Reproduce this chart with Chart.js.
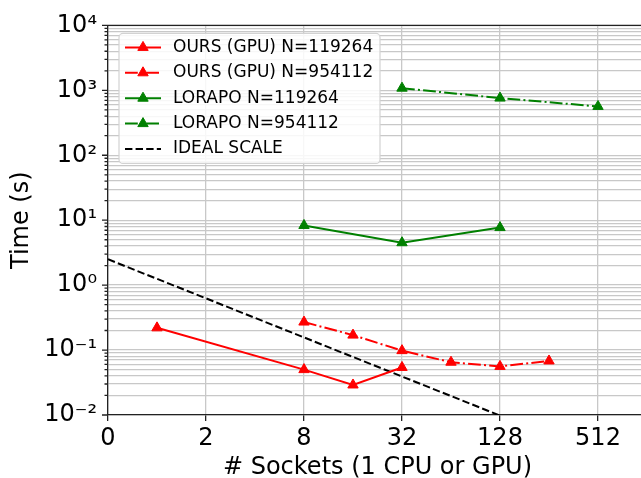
<!DOCTYPE html>
<html>
<head>
<meta charset="utf-8">
<script src="https://cdn.jsdelivr.net/npm/chart.js@4"></script>
<style>
  html, body { margin: 0; padding: 0; background: #fff; overflow: hidden; }
  #wrap { width: 654px; height: 484px; }
</style>
</head>
<body>
<div id="wrap"><canvas id="chart" width="654" height="484"></canvas></div>
<script>
// sockets on x, time in seconds on y
const oursSmallX = [1, 8, 16, 32];
const oursSmallY = [0.22, 0.05, 0.029, 0.054];
const oursLargeX = [8, 16, 32, 64, 128, 256];
const oursLargeY = [0.27, 0.17, 0.098, 0.065, 0.056, 0.068];
const lorapoSmallX = [8, 32, 128];
const lorapoSmallY = [8.3, 4.5, 7.7];
const lorapoLargeX = [32, 128, 512];
const lorapoLargeY = [1080, 760, 565];
const idealX = [0.5, 128];
const idealY = [2.5, 0.0098];

const xTickValues = [0.5, 2, 8, 32, 128, 512];
const xTickLabels = ["0", "2", "8", "32", "128", "512"];
const yTickValues = [0.01, 0.1, 1, 10, 100, 1000, 10000];
const yTickLabels = ["10⁻²", "10⁻¹", "10⁰", "10¹", "10²", "10³", "10⁴"];

const DASHDOT = [12.8, 3.2, 2, 3.2];
const DASHED = [7.4, 3.2];
const RED = "#ff0000";
const GREEN = "#008000";

Chart.defaults.font.family = "'DejaVu Sans', sans-serif";
Chart.defaults.color = "#000";

const toPoints = (xs, ys) => xs.map((x, i) => ({ x, y: ys[i] }));

// major ticks plus 2..9 minor ticks per decade
const yTicks = [];
yTickValues.forEach((v, i) => {
  yTicks.push({ value: v, major: true });
  if (i < yTickValues.length - 1) {
    for (let m = 2; m < 10; m++) yTicks.push({ value: m * v, major: false });
  }
});

const series = (label, xs, ys, color, dash) => ({
  label,
  data: toPoints(xs, ys),
  borderColor: color,
  backgroundColor: color,
  borderWidth: 2,
  borderDash: dash,
  pointStyle: "triangle",
  pointRadius: 6,
  pointBorderWidth: 1,
  pointBackgroundColor: color,
  pointBorderColor: color,
  tension: 0,
});

const drawTriangle = (ctx, x, y, r, color) => {
  ctx.fillStyle = color;
  ctx.strokeStyle = color;
  ctx.lineWidth = 1;
  ctx.beginPath();
  for (let k = 0; k < 3; k++) {
    const a = (k * 2 * Math.PI) / 3;
    const px = x + Math.sin(a) * r;
    const py = y - Math.cos(a) * r;
    k === 0 ? ctx.moveTo(px, py) : ctx.lineTo(px, py);
  }
  ctx.closePath();
  ctx.fill();
  ctx.stroke();
};

const legendBox = {
  id: "legendBox",
  afterDatasetsDraw(chart) {
    const { ctx, chartArea } = chart;
    const x = chartArea.left + 11;
    const y = chartArea.top + 8;
    ctx.save();
    ctx.fillStyle = "rgba(255,255,255,0.85)";
    ctx.strokeStyle = "#d2d2d2";
    ctx.lineWidth = 1.2;
    ctx.beginPath();
    ctx.roundRect(x, y, 261, 130, 4);
    ctx.fill();
    ctx.stroke();
    chart.data.datasets.forEach((ds, i) => {
      const cy = y + 14 + i * 25.4;
      ctx.strokeStyle = ds.borderColor;
      ctx.lineWidth = ds.borderWidth;
      ctx.setLineDash(ds.borderDash || []);
      ctx.beginPath();
      ctx.moveTo(x + 6, cy);
      ctx.lineTo(x + 42, cy);
      ctx.stroke();
      ctx.setLineDash([]);
      if (ds.pointRadius > 0) drawTriangle(ctx, x + 24, cy, 6, ds.borderColor);
      ctx.fillStyle = "#000";
      ctx.font = "17px 'DejaVu Sans'";
      ctx.textBaseline = "middle";
      ctx.fillText(ds.label, x + 54, cy);
    });
    ctx.restore();
  },
};

const frame = {
  id: "frame",
  afterDraw(chart) {
    const { ctx, chartArea } = chart;
    const yScale = chart.scales.y;
    ctx.save();
    ctx.strokeStyle = "#222";
    ctx.lineWidth = 1.3;
    ctx.beginPath();
    ctx.moveTo(chartArea.left, chartArea.top);
    ctx.lineTo(chartArea.right, chartArea.top);
    yScale.ticks.forEach((t) => {
      const py = yScale.getPixelForValue(t.value);
      const len = t.major ? 6 : 3.5;
      ctx.moveTo(chartArea.left - len, py);
      ctx.lineTo(chartArea.left, py);
    });
    ctx.stroke();
    ctx.restore();
  },
};

new Chart(document.getElementById("chart"), {
  type: "line",
  data: {
    datasets: [
      series("OURS (GPU) N=119264", oursSmallX, oursSmallY, RED, []),
      series("OURS (GPU) N=954112", oursLargeX, oursLargeY, RED, DASHDOT),
      series("LORAPO N=119264", lorapoSmallX, lorapoSmallY, GREEN, []),
      series("LORAPO N=954112", lorapoLargeX, lorapoLargeY, GREEN, DASHDOT),
      {
        label: "IDEAL SCALE",
        data: toPoints(idealX, idealY),
        borderColor: "#000",
        borderWidth: 2,
        borderDash: DASHED,
        pointRadius: 0,
        tension: 0,
      },
    ],
  },
  options: {
    responsive: false,
    animation: false,
    layout: { padding: { top: 25, left: 0, right: 0, bottom: 0 } },
    plugins: { legend: { display: false }, tooltip: { enabled: false } },
    scales: {
      x: {
        type: "logarithmic",
        min: 0.5,
        max: 1024,
        afterBuildTicks: (scale) => {
          scale.ticks = xTickValues.map((v) => ({ value: v, major: true }));
        },
        afterFit: (scale) => {
          scale.height = 69;
        },
        ticks: {
          autoSkip: false,
          maxRotation: 0,
          padding: 3,
          font: { size: 24 },
          color: "#000",
          callback: (v) => {
            const i = xTickValues.indexOf(v);
            return i >= 0 ? xTickLabels[i] : "";
          },
        },
        grid: { color: "#c8c8c8", lineWidth: 1.3, tickColor: "#222", tickLength: 6, tickWidth: 1.3 },
        border: { color: "#222", width: 1.3 },
        title: {
          display: true,
          text: "# Sockets (1 CPU or GPU)",
          font: { size: 24 },
          color: "#000",
          padding: { top: 0, bottom: 2 },
        },
      },
      y: {
        type: "logarithmic",
        min: 0.01,
        max: 10000,
        afterBuildTicks: (scale) => {
          scale.ticks = yTicks.map((t) => ({ value: t.value, major: t.major }));
        },
        afterFit: (scale) => {
          scale.width = 108;
        },
        ticks: {
          autoSkip: false,
          padding: 11,
          font: { size: 24 },
          color: "#000",
          callback: (v) => {
            const i = yTickValues.indexOf(v);
            return i >= 0 ? yTickLabels[i] : "";
          },
        },
        grid: { color: "#c8c8c8", lineWidth: 1.3, drawTicks: false },
        border: { color: "#222", width: 1.3 },
        title: {
          display: true,
          text: "Time (s)",
          font: { size: 24 },
          color: "#000",
          padding: { top: 7, bottom: 0 },
        },
      },
    },
  },
  plugins: [legendBox, frame],
});
</script>
</body>
</html>
